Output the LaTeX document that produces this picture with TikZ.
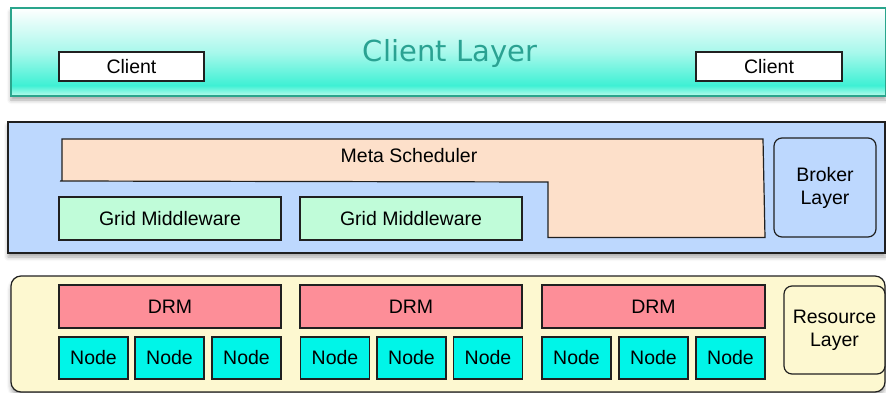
\documentclass[tikz,border=0pt]{standalone}
\usepackage{fontspec}
\setmainfont{Liberation Sans}
\newfontfamily\titlefont{DejaVu Sans}
\usetikzlibrary{shadows.blur}

\definecolor{clientedge}{HTML}{2AA58C}
\definecolor{clienttext}{HTML}{2AA292}
\definecolor{clientdeep}{HTML}{3EF0D4}
\definecolor{clientpale}{HTML}{BDFBEC}
\definecolor{brokerfill}{HTML}{BDD8FE}
\definecolor{metafill}{HTML}{FDE0CA}
\definecolor{gridfill}{HTML}{C0FCD9}
\definecolor{resfill}{HTML}{FDF8D0}
\definecolor{drmfill}{HTML}{FD8E98}
\definecolor{nodefill}{HTML}{00F5E8}
\definecolor{edge}{HTML}{202020}

% vertical gradient of the top layer: pale strip at the bottom, deep band, white top
\pgfdeclareverticalshading{clientshade}{100bp}{
  color(0bp)=(clientpale); color(25bp)=(clientpale); color(31bp)=(clientdeep);
  color(50bp)=(clientdeep!45!white); color(75bp)=(white); color(100bp)=(white)}

\tikzset{
  labelfont/.style={font=\fontsize{19.5}{23}\selectfont},
  box/.style={draw=edge, line width=1.2pt, inner sep=0pt, labelfont, align=center},
  layershadow/.style={blur shadow={shadow xshift=0pt, shadow yshift=-4pt,
      shadow blur radius=4pt, shadow opacity=35}},
  clientbox/.style={box, fill=white},
  gridbox/.style={box, fill=gridfill},
  drmbox/.style={box, fill=drmfill},
  hostbox/.style={box, fill=nodefill, minimum width=69pt, minimum height=42pt},
  tagbox/.style={box, rounded corners=8pt},
}

\begin{document}
\begin{tikzpicture}[x=1pt, y=-1pt]
\useasboundingbox (0,0) rectangle (886,393);

% ---------- client layer ----------
\node[draw=clientedge, line width=2pt, shading=clientshade, inner sep=0pt,
      minimum width=874.5pt, minimum height=88pt, layershadow]
      (clientlayer) at (448.25,52) {};
\node[font=\titlefont\fontsize{29}{32}\selectfont, text=clienttext, anchor=base]
      (clienttitle) at (450,62) {Client Layer};
\node[clientbox, minimum width=145pt, minimum height=29pt] (clientA) at (131.5,66.5) {Client};
\node[clientbox, minimum width=146pt, minimum height=29pt] (clientB) at (769,66.5) {Client};

% ---------- broker layer ----------
\node[draw=edge, line width=1.2pt, fill=brokerfill, inner sep=0pt,
      minimum width=877pt, minimum height=131pt, layershadow]
      (brokerlayer) at (446.5,187.5) {};
\draw[draw=edge, line width=1.2pt, fill=metafill]
  (62,139) -- (763,139) -- (765,237.5) -- (548,237.5) -- (548,182) -- (60,181) -- (62,181) -- cycle;
\node[labelfont, anchor=base] (meta) at (409,163) {Meta Scheduler};
\node[gridbox, minimum width=222pt, minimum height=43pt] (gridA) at (170,218.5) {Grid Middleware};
\node[gridbox, minimum width=222pt, minimum height=43pt] (gridB) at (411,218.5) {Grid Middleware};
\node[tagbox, fill=brokerfill, minimum width=102pt, minimum height=99pt] (broker) at (825,187.5) {Broker\\Layer};

% ---------- resource layer ----------
\node[draw=edge, line width=1.2pt, fill=resfill, rounded corners=10pt, inner sep=0pt,
      minimum width=874pt, minimum height=116pt, layershadow]
      (resourcelayer) at (448,334) {};
\node[drmbox, minimum width=222pt, minimum height=43pt] (drmA) at (170,306.5) {DRM};
\node[drmbox, minimum width=222pt, minimum height=43pt] (drmB) at (411,306.5) {DRM};
\node[drmbox, minimum width=223pt, minimum height=43pt] (drmC) at (653.5,306.5) {DRM};

\node[hostbox] (hostA1) at (93.5,358) {Node};
\node[hostbox] (hostA2) at (169.5,358) {Node};
\node[hostbox] (hostA3) at (246.5,358) {Node};
\node[hostbox] (hostB1) at (335,358) {Node};
\node[hostbox] (hostB2) at (411.5,358) {Node};
\node[hostbox] (hostB3) at (488,358) {Node};
\node[hostbox] (hostC1) at (576.5,358) {Node};
\node[hostbox] (hostC2) at (653.5,358) {Node};
\node[hostbox] (hostC3) at (730.5,358) {Node};

\node[tagbox, fill=resfill, minimum width=101pt, minimum height=88pt] (resource) at (834.5,330) {Resource\\Layer};
\end{tikzpicture}
\end{document}
